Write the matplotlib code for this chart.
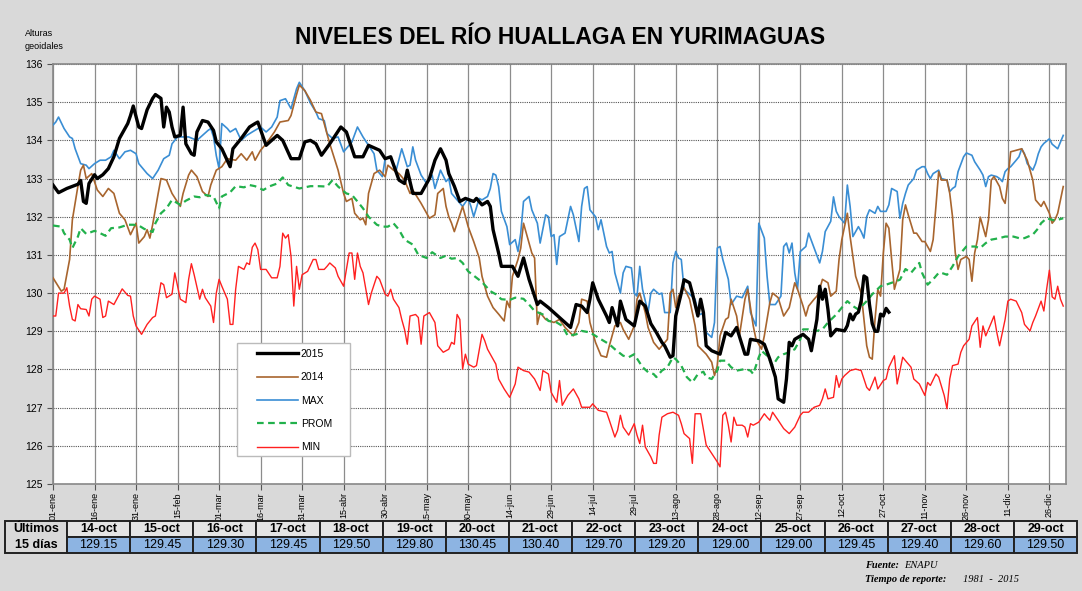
import matplotlib
matplotlib.use('Agg')
import matplotlib.pyplot as plt
from matplotlib.patches import Rectangle

plt.rcParams['font.family'] = ['Liberation Sans', 'DejaVu Sans']

# day index (01-ene = 0, leap calendar) and river level (m)
tick_days = list(range(0, 361, 15))
tick_labels = ['01-ene', '16-ene', '31-ene', '15-feb', '01-mar', '16-mar', '31-mar',
               '15-abr', '30-abr', '15-may', '30-may', '14-jun', '29-jun', '14-jul',
               '29-jul', '13-ago', '28-ago', '12-sep', '27-sep', '12-oct', '27-oct',
               '11-nov', '26-nov', '11-dic', '26-dic']

# last 15 days table
last_dates = ['14-oct', '15-oct', '16-oct', '17-oct', '18-oct', '19-oct', '20-oct', '21-oct',
              '22-oct', '23-oct', '24-oct', '25-oct', '26-oct', '27-oct', '28-oct', '29-oct']
last_days = list(range(287, 303))
last_values = [129.15, 129.45, 129.30, 129.45, 129.50, 129.80, 130.45, 130.40,
               129.70, 129.20, 129.00, 129.00, 129.45, 129.40, 129.60, 129.50]

y2015 = [(0, 132.83), (2, 132.63), (5, 132.74), (9, 132.85), (10, 132.95), (11, 132.4), (12, 132.35),
         (13, 132.87), (15, 133.1), (16, 133.0), (18, 133.1), (20, 133.26), (22, 133.57), (24, 134.05),
         (27, 134.44), (28, 134.65), (29, 134.9), (31, 134.35), (32, 134.31), (34, 134.8), (36, 135.1),
         (37, 135.2), (39, 135.1), (40, 134.35), (41, 134.87), (42, 134.74), (43, 134.35), (44, 134.09),
         (46, 134.13), (47, 134.87), (48, 133.91), (50, 133.65), (51, 133.61), (52, 134.22), (54, 134.52),
         (56, 134.48), (58, 134.26), (59, 133.96), (61, 133.78), (64, 133.31), (65, 133.78), (68, 134.05),
         (71, 134.35), (73, 134.44), (74, 134.48), (77, 133.87), (81, 134.13), (83, 134.0), (86, 133.52),
         (89, 133.52), (91, 133.96), (93, 134.0), (95, 133.91), (97, 133.61), (100, 133.91), (104, 134.35),
         (106, 134.22), (109, 133.57), (112, 133.57), (114, 133.87), (118, 133.74), (120, 133.52),
         (122, 133.57), (125, 132.96), (127, 132.87), (128, 133.22), (130, 132.61), (133, 132.61),
         (136, 133.0), (138, 133.48), (140, 133.78), (142, 133.48), (143, 133.13), (145, 132.8),
         (147, 132.4), (149, 132.48), (152, 132.4), (153, 132.48), (155, 132.31), (157, 132.4),
         (158, 132.27), (159, 131.66), (161, 131.05), (162, 130.7), (166, 130.7), (168, 130.44),
         (170, 130.92), (172, 130.36), (175, 129.7), (176, 129.79), (179, 129.62), (183, 129.36),
         (187, 129.1), (189, 129.7), (191, 129.66), (193, 129.49), (194, 129.84), (195, 130.27),
         (197, 129.84), (200, 129.4), (201, 129.23), (202, 129.62), (204, 129.14), (205, 129.79),
         (207, 129.31), (210, 129.14), (212, 129.79), (214, 129.66), (216, 129.2), (218, 128.97),
         (220, 128.71), (221, 128.62), (223, 128.32), (224, 128.36), (225, 129.4), (227, 130.0),
         (228, 130.35), (230, 130.27), (231, 130.0), (233, 129.4), (234, 129.84), (235, 129.49),
         (236, 128.62), (238, 128.49), (241, 128.4), (243, 128.97), (245, 128.88), (247, 129.1),
         (250, 128.4), (251, 128.4), (252, 128.79), (255, 128.75), (257, 128.66), (259, 128.27),
         (261, 127.8), (262, 127.23), (264, 127.14), (265, 127.75), (266, 128.71), (267, 128.62),
         (268, 128.79), (271, 128.92), (273, 128.79), (274, 128.49), (276, 129.31), (277, 130.18),
         (278, 129.84), (279, 130.1), (280, 129.57), (281, 128.88), (283, 129.05), (286, 129.01)]
y2015 += list(zip(last_days, last_values))

y2014 = [(0, 130.4), (3, 130.05), (4, 130.1), (6, 130.88), (7, 131.92), (9, 132.8), (10, 133.22),
         (11, 133.35), (12, 133.0), (14, 133.13), (16, 132.7), (18, 132.53), (20, 132.74), (22, 132.61),
         (24, 132.09), (26, 131.92), (28, 131.53), (30, 131.83), (31, 131.31), (33, 131.48), (34, 131.66),
         (35, 131.44), (36, 131.79), (38, 132.61), (39, 133.0), (41, 132.96), (43, 132.61), (46, 132.27),
         (47, 132.61), (49, 133.09), (50, 133.22), (52, 133.05), (54, 132.66), (56, 132.53), (57, 132.83),
         (59, 133.22), (61, 133.31), (63, 133.52), (66, 133.48), (68, 133.65), (70, 133.48), (72, 133.7),
         (73, 133.48), (75, 133.74), (77, 133.91), (80, 134.22), (82, 134.48), (85, 134.52), (86, 134.65),
         (88, 135.2), (89, 135.45), (91, 135.3), (93, 135.05), (95, 134.74), (97, 134.7), (100, 133.91),
         (103, 133.22), (105, 132.61), (106, 132.4), (108, 132.48), (109, 132.09), (111, 131.92),
         (112, 131.96), (113, 131.79), (114, 132.61), (116, 133.13), (118, 133.22), (120, 133.05),
         (121, 133.35), (123, 133.22), (125, 133.13), (127, 132.96), (129, 132.61), (130, 132.7),
         (133, 132.35), (135, 132.09), (136, 131.96), (138, 132.05), (139, 132.61), (141, 132.74),
         (142, 132.27), (143, 132.0), (144, 131.83), (145, 131.61), (148, 132.27), (150, 131.74),
         (152, 131.35), (154, 130.92), (155, 130.44), (157, 129.92), (159, 129.62), (161, 129.45),
         (163, 129.27), (164, 129.79), (165, 129.62), (166, 130.44), (168, 130.88), (169, 131.18),
         (170, 131.83), (172, 131.31), (173, 131.05), (174, 130.92), (175, 129.18), (176, 129.49),
         (178, 129.31), (181, 129.23), (183, 129.31), (185, 129.1), (188, 128.88), (190, 129.23),
         (191, 129.84), (193, 129.79), (194, 129.23), (196, 128.71), (198, 128.36), (200, 128.32),
         (201, 128.62), (202, 128.88), (203, 129.14), (205, 129.23), (206, 129.05), (208, 128.79),
         (210, 129.14), (211, 129.84), (212, 130.0), (214, 129.49), (215, 129.1), (217, 128.71),
         (219, 128.53), (222, 128.79), (223, 130.0), (224, 130.1), (225, 129.62), (226, 129.92),
         (228, 130.14), (230, 129.84), (232, 129.14), (233, 128.62), (236, 128.4), (238, 128.19),
         (239, 127.84), (240, 128.1), (241, 128.88), (243, 129.31), (244, 129.36), (245, 129.84),
         (247, 129.4), (248, 128.88), (250, 129.84), (251, 130.1), (253, 129.14), (254, 128.79),
         (256, 128.53), (257, 128.88), (259, 129.75), (260, 130.0), (262, 129.88), (264, 129.4),
         (266, 129.62), (268, 130.27), (269, 130.1), (271, 129.66), (272, 129.4), (273, 129.66),
         (275, 129.84), (276, 129.92), (277, 130.1), (278, 130.36), (280, 130.27), (281, 129.92),
         (283, 130.05), (284, 130.88), (285, 131.4), (287, 132.09), (288, 131.48), (289, 130.96),
         (290, 130.44), (292, 130.0), (293, 129.31), (294, 128.62), (295, 128.32), (296, 128.27),
         (297, 129.31), (298, 130.1), (299, 129.92), (300, 131.05), (301, 131.83), (302, 131.7),
         (303, 130.88), (304, 130.1), (305, 130.36), (306, 130.62), (307, 131.92), (308, 132.31),
         (309, 132.05), (311, 131.57), (312, 131.57), (314, 131.35), (315, 131.35), (317, 131.09),
         (318, 131.4), (319, 132.27), (320, 133.18), (321, 132.96), (323, 132.96), (324, 132.61),
         (325, 132.0), (326, 131.05), (327, 130.62), (328, 130.88), (330, 130.96), (331, 130.88),
         (332, 130.31), (333, 131.05), (334, 131.4), (335, 131.99), (337, 131.48), (338, 131.92),
         (339, 132.96), (340, 133.05), (342, 132.79), (343, 132.48), (344, 132.35), (345, 132.96),
         (346, 133.7), (348, 133.74), (350, 133.78), (352, 133.48), (354, 132.96), (355, 132.44),
         (357, 132.27), (358, 132.4), (360, 132.09), (361, 131.83), (362, 131.92), (363, 132.09),
         (365, 132.79)]

ymax = [(0, 134.4), (1, 134.48), (2, 134.61), (4, 134.31), (6, 134.09), (7, 134.05), (8, 133.78),
        (10, 133.39), (12, 133.35), (13, 133.26), (15, 133.39), (17, 133.48), (19, 133.48), (21, 133.57),
        (22, 133.74), (24, 133.52), (26, 133.7), (28, 133.74), (30, 133.65), (31, 133.39), (34, 133.13),
        (36, 133.0), (38, 133.22), (40, 133.52), (42, 133.61), (43, 133.91), (45, 134.09), (47, 134.09),
        (49, 134.09), (52, 134.0), (54, 134.13), (56, 134.26), (57, 134.31), (58, 134.09), (59, 133.6),
        (60, 133.26), (61, 134.44), (63, 134.31), (64, 134.22), (66, 134.31), (68, 134.0), (70, 134.13),
        (72, 134.22), (75, 134.35), (77, 134.22), (79, 134.35), (81, 134.61), (82, 135.04), (84, 135.09),
        (86, 134.83), (88, 135.35), (89, 135.52), (91, 135.3), (93, 134.98), (95, 134.74), (96, 134.57),
        (98, 134.52), (99, 134.18), (101, 134.05), (103, 134.09), (105, 133.7), (108, 133.96),
        (110, 134.35), (112, 134.09), (114, 133.87), (116, 133.65), (117, 133.22), (119, 133.05),
        (120, 133.52), (122, 133.57), (124, 133.22), (126, 133.78), (128, 133.31), (129, 133.35),
        (130, 133.83), (131, 133.48), (133, 133.09), (135, 132.87), (137, 133.09), (138, 132.74),
        (140, 133.22), (142, 132.92), (143, 133.0), (144, 132.61), (146, 132.44), (148, 132.27),
        (150, 132.48), (151, 132.27), (152, 132.0), (154, 132.48), (155, 132.44), (157, 132.53),
        (158, 132.74), (159, 133.13), (160, 133.09), (161, 132.79), (162, 132.14), (164, 131.74),
        (165, 131.27), (167, 131.4), (168, 131.09), (169, 131.57), (170, 132.4), (172, 132.53),
        (173, 132.18), (175, 131.83), (176, 131.31), (178, 132.05), (179, 132.0), (180, 131.48),
        (181, 131.53), (182, 130.75), (183, 131.48), (185, 131.57), (186, 131.92), (187, 132.27),
        (188, 132.05), (190, 131.35), (191, 132.27), (192, 132.74), (193, 132.79), (194, 132.18),
        (196, 132.0), (197, 131.66), (198, 131.92), (200, 131.22), (201, 131.05), (202, 131.09),
        (203, 130.53), (205, 130.0), (206, 130.53), (207, 130.7), (209, 130.66), (210, 130.0),
        (211, 129.92), (212, 130.7), (213, 130.1), (215, 129.49), (216, 130.0), (217, 130.1),
        (219, 129.97), (220, 130.0), (221, 129.49), (223, 129.49), (224, 130.79), (225, 131.09),
        (226, 130.92), (227, 130.88), (228, 130.1), (230, 129.97), (232, 129.84), (233, 129.49),
        (234, 129.44), (235, 129.49), (236, 128.97), (238, 128.84), (239, 129.23), (240, 131.18),
        (241, 131.22), (242, 130.88), (244, 130.36), (245, 129.7), (247, 129.92), (249, 129.88),
        (251, 130.18), (252, 129.49), (254, 129.14), (255, 131.83), (257, 131.44), (258, 130.44),
        (259, 129.7), (261, 129.7), (263, 129.92), (264, 131.22), (265, 131.31), (266, 131.05),
        (267, 131.31), (268, 130.53), (269, 130.1), (270, 131.09), (272, 131.22), (273, 131.57),
        (275, 131.18), (277, 130.79), (278, 131.09), (279, 131.61), (281, 131.88), (282, 132.52),
        (283, 132.14), (284, 132.0), (286, 131.83), (287, 132.83), (288, 132.27), (289, 131.48),
        (291, 131.74), (292, 131.61), (293, 131.44), (294, 132.0), (295, 132.18), (297, 132.09),
        (298, 132.27), (299, 132.14), (301, 132.14), (302, 132.31), (303, 132.74), (305, 132.66),
        (306, 131.96), (307, 132.35), (308, 132.61), (309, 132.83), (311, 133.0), (312, 133.22),
        (314, 133.31), (315, 133.31), (316, 133.13), (317, 133.0), (318, 133.13), (320, 133.22),
        (321, 133.0), (323, 132.96), (324, 132.66), (325, 132.74), (326, 132.79), (327, 133.18),
        (329, 133.57), (330, 133.67), (332, 133.61), (333, 133.44), (335, 133.22), (336, 133.09),
        (337, 132.79), (338, 133.05), (339, 133.09), (341, 133.05), (342, 133.0), (343, 132.92),
        (344, 133.18), (345, 133.26), (346, 133.31), (348, 133.48), (349, 133.57), (350, 133.78),
        (351, 133.65), (352, 133.39), (354, 133.22), (355, 133.39), (356, 133.65), (357, 133.83),
        (358, 133.92), (360, 134.04), (361, 133.9), (363, 133.78), (365, 134.13)]

yprom = [(0, 131.77), (3, 131.74), (4, 131.57), (6, 131.4), (7, 131.18), (9, 131.48), (10, 131.7),
         (12, 131.55), (15, 131.63), (17, 131.57), (19, 131.5), (21, 131.7), (24, 131.72), (27, 131.79),
         (29, 131.79), (31, 131.77), (33, 131.68), (36, 131.6), (37, 131.83), (39, 132.09), (41, 132.22),
         (43, 132.44), (46, 132.31), (48, 132.42), (51, 132.53), (53, 132.51), (55, 132.57), (58, 132.53),
         (60, 132.22), (61, 132.53), (64, 132.64), (66, 132.8), (69, 132.77), (71, 132.83), (73, 132.8),
         (76, 132.7), (78, 132.79), (81, 132.87), (83, 133.03), (85, 132.83), (89, 132.74), (93, 132.8),
         (96, 132.8), (99, 132.79), (101, 132.96), (103, 132.79), (106, 132.61), (108, 132.57),
         (110, 132.4), (112, 132.22), (114, 132.0), (117, 131.79), (119, 131.74), (121, 131.74),
         (123, 131.83), (125, 131.66), (127, 131.4), (130, 131.27), (132, 131.0), (135, 130.92),
         (137, 131.07), (140, 130.92), (142, 130.98), (144, 130.9), (146, 130.92), (148, 130.79),
         (150, 130.57), (153, 130.4), (155, 130.29), (158, 130.05), (160, 129.97), (162, 129.84),
         (165, 129.82), (167, 129.88), (170, 129.85), (172, 129.7), (174, 129.53), (177, 129.44),
         (179, 129.27), (182, 129.23), (184, 129.14), (186, 128.88), (189, 128.92), (191, 129.01),
         (194, 128.97), (196, 128.88), (198, 128.79), (201, 128.66), (203, 128.53), (206, 128.36),
         (208, 128.32), (210, 128.4), (213, 128.06), (215, 127.93), (217, 127.88), (218, 127.8),
         (220, 127.97), (222, 128.06), (224, 128.32), (225, 128.27), (227, 128.1), (229, 127.8),
         (231, 127.66), (233, 127.88), (235, 127.94), (236, 127.8), (238, 127.75), (240, 127.97),
         (241, 128.23), (243, 128.23), (245, 128.06), (247, 127.97), (250, 128.01), (252, 127.97),
         (253, 127.88), (255, 128.32), (256, 128.49), (258, 128.36), (260, 128.1), (262, 128.32),
         (264, 128.4), (266, 128.45), (268, 128.53), (270, 128.79), (271, 129.05), (273, 129.05),
         (276, 129.01), (278, 129.05), (280, 129.23), (283, 129.44), (285, 129.62), (287, 129.79),
         (289, 129.66), (291, 129.57), (294, 129.79), (296, 129.97), (299, 130.18), (301, 130.22),
         (303, 130.27), (306, 130.35), (308, 130.63), (310, 130.53), (313, 130.79), (314, 130.53),
         (316, 130.22), (318, 130.36), (320, 130.53), (321, 130.53), (323, 130.48), (325, 130.7),
         (327, 130.96), (328, 131.05), (330, 131.22), (333, 131.22), (335, 131.18), (337, 131.31),
         (339, 131.4), (342, 131.44), (344, 131.48), (347, 131.48), (349, 131.44), (351, 131.44),
         (354, 131.53), (356, 131.7), (357, 131.83), (359, 131.96), (362, 131.9), (363, 131.92),
         (365, 131.96)]

ymin = [(0, 129.4), (1, 129.4), (2, 130.0), (4, 130.0), (5, 130.14), (6, 129.66), (7, 129.31),
        (8, 129.27), (9, 129.7), (10, 129.59), (12, 129.57), (13, 129.4), (14, 129.84), (15, 129.92),
        (17, 129.84), (18, 129.36), (19, 129.4), (20, 129.79), (22, 129.7), (24, 129.97), (25, 130.11),
        (27, 129.94), (28, 129.92), (29, 129.4), (30, 129.14), (32, 128.92), (34, 129.18), (36, 129.36),
        (37, 129.4), (39, 130.27), (40, 130.22), (41, 129.88), (43, 129.97), (44, 130.53), (45, 130.18),
        (46, 129.84), (48, 129.75), (49, 130.36), (50, 130.77), (51, 130.48), (53, 129.84), (54, 130.1),
        (55, 129.88), (57, 129.66), (58, 129.23), (59, 130.0), (60, 130.36), (61, 130.18), (63, 129.84),
        (64, 129.18), (65, 129.18), (66, 130.1), (67, 130.7), (69, 130.62), (70, 130.79), (71, 130.75),
        (72, 131.2), (73, 131.31), (74, 131.14), (75, 130.62), (77, 130.62), (79, 130.4), (81, 130.4),
        (82, 130.7), (83, 131.57), (84, 131.44), (85, 131.53), (86, 130.96), (87, 129.66), (88, 130.7),
        (89, 130.1), (90, 130.48), (92, 130.57), (94, 130.88), (95, 130.88), (96, 130.62), (98, 130.62),
        (99, 130.7), (100, 130.79), (102, 130.66), (103, 130.44), (105, 130.18), (107, 131.05),
        (108, 131.05), (109, 130.36), (110, 131.05), (111, 130.7), (112, 130.53), (114, 129.7),
        (115, 130.0), (117, 130.44), (118, 130.36), (120, 129.97), (121, 129.92), (122, 130.1),
        (123, 129.84), (125, 129.62), (126, 129.31), (127, 129.05), (128, 128.66), (129, 129.4),
        (131, 129.44), (132, 129.36), (133, 128.66), (134, 129.4), (136, 129.49), (138, 129.23),
        (139, 128.62), (141, 128.45), (143, 128.53), (144, 128.71), (145, 128.66), (146, 129.44),
        (147, 129.31), (148, 128.01), (149, 128.4), (150, 128.14), (152, 128.06), (153, 128.1),
        (155, 128.92), (156, 128.75), (157, 128.53), (159, 128.27), (160, 128.14), (161, 127.75),
        (163, 127.49), (165, 127.27), (167, 127.62), (168, 128.06), (170, 127.97), (172, 127.93),
        (174, 127.75), (176, 127.45), (177, 127.97), (179, 127.88), (180, 127.4), (182, 127.14),
        (183, 127.71), (184, 127.06), (186, 127.32), (188, 127.49), (190, 127.23), (191, 127.01),
        (194, 127.01), (195, 127.1), (197, 126.93), (200, 126.88), (201, 126.67), (203, 126.23),
        (204, 126.41), (205, 126.8), (206, 126.49), (208, 126.28), (210, 126.58), (211, 126.28),
        (212, 126.06), (213, 126.54), (214, 125.97), (216, 125.71), (217, 125.54), (218, 125.54),
        (219, 126.28), (220, 126.75), (222, 126.84), (224, 126.88), (226, 126.8), (227, 126.58),
        (228, 126.32), (230, 126.19), (231, 125.54), (232, 126.84), (234, 126.84), (236, 126.02),
        (238, 125.8), (240, 125.58), (241, 125.45), (242, 126.8), (243, 126.88), (244, 126.54),
        (245, 126.1), (246, 126.75), (247, 126.54), (249, 126.54), (250, 126.49), (251, 126.23),
        (252, 126.58), (253, 126.54), (255, 126.62), (257, 126.84), (258, 126.75), (259, 126.67),
        (260, 126.88), (262, 126.67), (264, 126.45), (266, 126.32), (268, 126.49), (270, 126.8),
        (271, 126.88), (273, 126.88), (275, 127.01), (277, 127.06), (278, 127.23), (279, 127.49),
        (280, 127.23), (282, 127.27), (283, 127.84), (284, 127.53), (285, 127.75), (286, 127.84),
        (288, 127.97), (290, 128.01), (292, 127.97), (294, 127.53), (295, 127.45), (296, 127.62),
        (297, 127.8), (298, 127.49), (300, 127.71), (301, 127.75), (302, 128.06), (304, 128.36),
        (305, 127.62), (307, 128.32), (308, 128.23), (310, 128.06), (311, 127.75), (313, 127.62),
        (315, 127.32), (316, 127.66), (317, 127.58), (319, 127.88), (320, 127.8), (322, 127.32),
        (323, 126.97), (324, 127.75), (325, 128.1), (327, 128.14), (328, 128.45), (329, 128.62),
        (331, 128.79), (332, 129.14), (334, 129.36), (335, 128.58), (336, 129.14), (337, 128.88),
        (338, 129.05), (340, 129.4), (341, 128.97), (342, 128.62), (344, 129.31), (345, 129.79),
        (346, 129.84), (348, 129.79), (350, 129.49), (351, 129.18), (353, 129.01), (354, 129.23),
        (355, 129.4), (357, 129.79), (358, 129.53), (359, 130.1), (360, 130.6), (361, 129.9),
        (362, 129.84), (363, 130.18), (364, 129.84), (365, 129.66)]

BG = '#d9d9d9'
W, H = 1082, 591

fig = plt.figure(figsize=(W / 100, H / 100), dpi=100, facecolor=BG)
ax = fig.add_axes([53 / W, 1 - 484 / H, 1013 / W, 420 / H])
ax.set_facecolor('white')

series = [
    (y2015, '2015', dict(color='black', lw=2.4, zorder=6)),
    (y2014, '2014', dict(color='#a8652e', lw=1.2, zorder=4)),
    (ymax, 'MAX', dict(color='#3a8ed4', lw=1.2, zorder=3)),
    (yprom, 'PROM', dict(color='#22b14c', lw=1.6, ls=(0, (3, 2)), zorder=5)),
    (ymin, 'MIN', dict(color='#ff2020', lw=1.0, zorder=3)),
]
for pts, name, style in series:
    xs, ys = zip(*pts)
    ax.plot(xs, ys, label=name, **style)

ax.set_xlim(0, 366)
ax.set_ylim(125, 136)
ax.set_yticks(range(125, 137))
ax.set_xticks(tick_days)
ax.set_xticklabels(tick_labels, rotation=90, fontsize=6.5)
ax.tick_params(axis='y', labelsize=7.5, length=4, direction='out', color='#555555')
ax.tick_params(axis='x', length=4, direction='out', color='#555555', pad=2)
ax.xaxis.grid(True, color='#8c8c8c', lw=0.9, ls='-')
ax.yaxis.grid(True, color='#555555', lw=0.8, ls=(0, (1, 1)))
ax.set_axisbelow(True)
for sp in ax.spines.values():
    sp.set_color('#888888')
    sp.set_linewidth(1.2)

# legend box drawn separately so the padding matches the original
ax.add_patch(Rectangle(((237 - 53) / 1013, (484 - 456) / 420), 113 / 1013, 113 / 420,
                       transform=ax.transAxes, fc='white', ec='#bbbbbb', lw=1.0, zorder=9))
leg = ax.legend(loc='upper left', bbox_to_anchor=((257 - 53) / 1013, (484 - 349) / 420),
                fontsize=7.5, handlelength=3.9, labelspacing=1.28, borderpad=0,
                handletextpad=0.3, frameon=False, borderaxespad=0)
leg.set_zorder(10)

fig.text(560 / W, 1 - 37 / H, 'NIVELES DEL RÍO HUALLAGA EN YURIMAGUAS', ha='center',
         va='center', fontsize=16.5, fontweight='bold')
fig.text(25 / W, 1 - 40 / H, 'Alturas\ngeoidales', ha='left', va='center', fontsize=6.5,
         linespacing=1.7)

# table of the last 15 days
tax = fig.add_axes([0, 0, 1, 1])
tax.set_xlim(0, W)
tax.set_ylim(H, 0)
tax.axis('off')
x0, x1 = 5, 67
col_w = (1077 - x1) / len(last_dates)
r0, r1, r2 = 521, 537, 553
tax.add_patch(Rectangle((x0, r0), x1 - x0, r2 - r0, fc=BG, ec='#222222', lw=1.4))
tax.text((x0 + x1) / 2, (r0 + r1) / 2, 'Últimos', ha='center', va='center', fontsize=9, fontweight='bold')
tax.text((x0 + x1) / 2, (r1 + r2) / 2, '15 días', ha='center', va='center', fontsize=9, fontweight='bold')
for i, (d, v) in enumerate(zip(last_dates, last_values)):
    cx = x1 + i * col_w
    tax.add_patch(Rectangle((cx, r0), col_w, r1 - r0, fc='#e4e4e4', ec='#222222', lw=1.4))
    tax.add_patch(Rectangle((cx, r1), col_w, r2 - r1, fc='#8db4e2', ec='#222222', lw=1.4))
    tax.text(cx + col_w / 2, (r0 + r1) / 2 + 0.5, d, ha='center', va='center', fontsize=9, fontweight='bold')
    tax.text(cx + col_w / 2, (r1 + r2) / 2 + 0.5, f'{v:.2f}', ha='center', va='center', fontsize=9)

serif = ['Liberation Serif', 'DejaVu Serif']
tax.text(865, 566, 'Fuente: ', ha='left', va='center', fontsize=7.5, fontweight='bold',
         style='italic', family=serif)
tax.text(904, 566, 'ENAPU', ha='left', va='center', fontsize=7.5, style='italic', family=serif)
tax.text(865, 579, 'Tiempo de reporte: ', ha='left', va='center', fontsize=7.5, fontweight='bold',
         style='italic', family=serif)
tax.text(963, 579, '1981  -  2015', ha='left', va='center', fontsize=7.5, style='italic', family=serif)

fig.savefig('out.png', dpi=100, facecolor=BG)
